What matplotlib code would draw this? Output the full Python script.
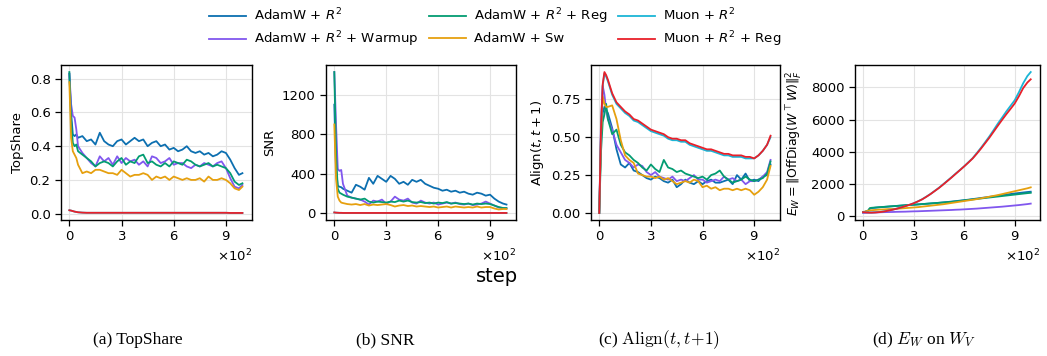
import matplotlib
matplotlib.use("Agg")
import matplotlib.pyplot as plt
from matplotlib.lines import Line2D

steps = [0, 10, 20, 30, 40, 50, 75, 100, 125, 150, 175,
         200, 225, 250, 275, 300, 325, 350, 375, 400, 425, 450,
         475, 500, 525, 550, 575, 600, 625, 650, 675, 700, 725,
         750, 775, 800, 825, 850, 875, 900, 925, 950, 975, 995]

methods = ["AdamW + $R^2$", "AdamW + $R^2$ + Warmup", "AdamW + $R^2$ + Reg",
           "AdamW + Sw", "Muon + $R^2$", "Muon + $R^2$ + Reg"]
colors = ["#0C6FB0", "#8157EE", "#039C72", "#E6A00F", "#1BB5D6", "#E8202A"]

# (a) TopShare
top_adamw = [0.83, 0.60, 0.47, 0.46, 0.47, 0.45, 0.46, 0.43, 0.44, 0.41, 0.48,
             0.43, 0.41, 0.40, 0.43, 0.44, 0.41, 0.43, 0.45, 0.43, 0.44, 0.40,
             0.42, 0.43, 0.40, 0.41, 0.38, 0.39, 0.37, 0.38, 0.40, 0.37, 0.36,
             0.37, 0.35, 0.36, 0.34, 0.35, 0.37, 0.36, 0.32, 0.27, 0.23, 0.24]
top_warmup = [0.83, 0.65, 0.58, 0.57, 0.50, 0.40, 0.36, 0.33, 0.30, 0.28, 0.34,
              0.31, 0.33, 0.29, 0.34, 0.30, 0.33, 0.31, 0.32, 0.29, 0.31, 0.28,
              0.34, 0.33, 0.30, 0.31, 0.33, 0.29, 0.30, 0.30, 0.28, 0.27, 0.29,
              0.28, 0.30, 0.29, 0.28, 0.30, 0.31, 0.27, 0.21, 0.16, 0.15, 0.17]
top_reg = [0.84, 0.55, 0.42, 0.40, 0.41, 0.37, 0.35, 0.33, 0.31, 0.28, 0.30,
           0.31, 0.30, 0.28, 0.31, 0.33, 0.29, 0.31, 0.30, 0.34, 0.35, 0.30,
           0.31, 0.29, 0.28, 0.30, 0.28, 0.31, 0.30, 0.29, 0.32, 0.31, 0.29,
           0.28, 0.29, 0.30, 0.28, 0.29, 0.28, 0.27, 0.24, 0.19, 0.17, 0.18]
top_sw = [0.78, 0.45, 0.37, 0.35, 0.33, 0.29, 0.24, 0.25, 0.24, 0.26, 0.26,
          0.25, 0.24, 0.24, 0.23, 0.26, 0.24, 0.22, 0.23, 0.23, 0.24, 0.23,
          0.20, 0.22, 0.21, 0.22, 0.20, 0.22, 0.21, 0.20, 0.21, 0.20, 0.20,
          0.21, 0.19, 0.22, 0.20, 0.20, 0.21, 0.20, 0.18, 0.15, 0.14, 0.16]
top_muon = [0.020, 0.018, 0.015, 0.012, 0.010, 0.008, 0.006, 0.005, 0.005, 0.005, 0.005,
            0.005, 0.005, 0.005, 0.005, 0.005, 0.005, 0.005, 0.005, 0.005, 0.005, 0.005,
            0.005, 0.005, 0.005, 0.005, 0.005, 0.005, 0.005, 0.005, 0.005, 0.005, 0.005,
            0.005, 0.005, 0.005, 0.005, 0.005, 0.005, 0.005, 0.004, 0.004, 0.004, 0.004]
top_muon_reg = [0.020, 0.018, 0.015, 0.012, 0.010, 0.008, 0.006, 0.005, 0.005, 0.005, 0.005,
                0.005, 0.005, 0.005, 0.005, 0.005, 0.005, 0.005, 0.005, 0.005, 0.005, 0.005,
                0.005, 0.005, 0.005, 0.005, 0.005, 0.005, 0.005, 0.005, 0.005, 0.005, 0.005,
                0.005, 0.005, 0.005, 0.005, 0.005, 0.005, 0.005, 0.004, 0.004, 0.004, 0.004]

# (b) SNR
snr_adamw = [1100, 450, 280, 270, 265, 250, 230, 210, 290, 270, 240,
             360, 300, 380, 350, 320, 380, 350, 300, 320, 290, 340,
             320, 340, 300, 280, 260, 250, 230, 240, 220, 230, 210,
             220, 200, 190, 210, 200, 180, 190, 150, 120, 100, 90]
snr_warmup = [1430, 900, 450, 430, 440, 300, 180, 160, 150, 140, 120,
              90, 130, 120, 140, 100, 120, 170, 140, 130, 150, 110,
              100, 130, 110, 100, 110, 90, 100, 110, 100, 110, 95,
              90, 100, 85, 90, 100, 120, 100, 80, 60, 55, 50]
snr_reg = [1430, 600, 250, 210, 200, 190, 170, 160, 150, 140, 150,
           120, 110, 120, 115, 110, 120, 115, 130, 120, 130, 115,
           110, 115, 105, 110, 100, 110, 105, 115, 100, 105, 100,
           95, 100, 90, 100, 95, 100, 95, 80, 65, 55, 55]
snr_sw = [900, 350, 170, 130, 110, 105, 95, 90, 95, 85, 95,
          80, 90, 85, 90, 95, 85, 70, 80, 85, 75, 80,
          70, 75, 70, 65, 70, 60, 65, 70, 60, 70, 65,
          60, 65, 60, 70, 60, 65, 65, 50, 40, 45, 45]
snr_muon = [10, 8, 7, 6, 6, 5, 5, 5, 5, 5, 5,
            5, 5, 5, 5, 5, 5, 5, 5, 5, 5, 5,
            5, 5, 5, 5, 5, 5, 5, 5, 5, 5, 5,
            5, 5, 5, 5, 5, 5, 5, 5, 5, 5, 5]
snr_muon_reg = [10, 8, 7, 6, 6, 5, 5, 5, 5, 5, 5,
                5, 5, 5, 5, 5, 5, 5, 5, 5, 5, 5,
                5, 5, 5, 5, 5, 5, 5, 5, 5, 5, 5,
                5, 5, 5, 5, 5, 5, 5, 5, 5, 5, 5]

# (c) Align(t, t+1)
al_adamw = [0.00, 0.50, 0.66, 0.70, 0.68, 0.66, 0.56, 0.42, 0.32, 0.30, 0.33,
            0.28, 0.27, 0.25, 0.23, 0.22, 0.24, 0.23, 0.21, 0.20, 0.22, 0.17,
            0.19, 0.22, 0.20, 0.19, 0.21, 0.19, 0.21, 0.22, 0.20, 0.20, 0.21,
            0.22, 0.19, 0.25, 0.22, 0.26, 0.21, 0.22, 0.21, 0.24, 0.25, 0.32]
al_warmup = [0.00, 0.60, 0.84, 0.78, 0.68, 0.62, 0.55, 0.45, 0.40, 0.35, 0.33,
             0.30, 0.32, 0.31, 0.27, 0.25, 0.27, 0.24, 0.23, 0.22, 0.24, 0.21,
             0.22, 0.21, 0.23, 0.25, 0.22, 0.22, 0.20, 0.21, 0.22, 0.21, 0.24,
             0.22, 0.23, 0.21, 0.22, 0.19, 0.21, 0.21, 0.22, 0.24, 0.27, 0.35]
al_reg = [0.00, 0.40, 0.60, 0.65, 0.72, 0.62, 0.52, 0.55, 0.45, 0.40, 0.38,
          0.35, 0.33, 0.30, 0.28, 0.32, 0.29, 0.27, 0.35, 0.30, 0.29, 0.27,
          0.28, 0.26, 0.25, 0.24, 0.23, 0.24, 0.22, 0.25, 0.26, 0.28, 0.24,
          0.22, 0.20, 0.21, 0.22, 0.24, 0.22, 0.21, 0.22, 0.23, 0.26, 0.34]
al_sw = [0.00, 0.50, 0.77, 0.72, 0.70, 0.70, 0.71, 0.62, 0.48, 0.38, 0.35,
         0.33, 0.26, 0.25, 0.24, 0.24, 0.23, 0.24, 0.22, 0.23, 0.21, 0.19,
         0.20, 0.21, 0.20, 0.22, 0.21, 0.17, 0.18, 0.16, 0.17, 0.15, 0.16,
         0.16, 0.15, 0.16, 0.15, 0.16, 0.15, 0.12, 0.14, 0.17, 0.22, 0.31]
al_muon = [0.00, 0.54, 0.84, 0.92, 0.90, 0.87, 0.78, 0.72, 0.69, 0.66, 0.64,
           0.61, 0.60, 0.58, 0.56, 0.54, 0.53, 0.52, 0.51, 0.49, 0.48, 0.48,
           0.47, 0.47, 0.45, 0.44, 0.43, 0.42, 0.41, 0.41, 0.40, 0.39, 0.38,
           0.38, 0.37, 0.37, 0.37, 0.36, 0.36, 0.36, 0.38, 0.41, 0.45, 0.50]
al_muon_reg = [0.00, 0.55, 0.85, 0.93, 0.91, 0.88, 0.79, 0.73, 0.70, 0.67, 0.65,
               0.62, 0.61, 0.59, 0.57, 0.55, 0.54, 0.53, 0.52, 0.50, 0.49, 0.49,
               0.48, 0.48, 0.46, 0.45, 0.44, 0.43, 0.42, 0.42, 0.41, 0.40, 0.39,
               0.39, 0.38, 0.38, 0.38, 0.37, 0.37, 0.36, 0.38, 0.41, 0.45, 0.51]

# (d) E_W on W_V
ew_adamw = [250, 270, 300, 340, 470, 500, 530, 555, 575, 595, 615,
            635, 655, 675, 695, 710, 730, 750, 770, 790, 810, 830,
            855, 880, 905, 935, 965, 995, 1025, 1060, 1095, 1130, 1165,
            1200, 1235, 1270, 1305, 1340, 1375, 1410, 1440, 1470, 1500, 1520]
ew_warmup = [200, 205, 210, 215, 220, 222, 230, 240, 250, 255, 260,
             270, 275, 280, 290, 300, 305, 315, 325, 335, 345, 355,
             365, 375, 385, 400, 410, 425, 440, 455, 470, 490, 510,
             530, 550, 570, 590, 615, 640, 665, 690, 720, 750, 780]
ew_reg = [250, 270, 300, 350, 500, 520, 540, 560, 580, 600, 620,
          640, 660, 680, 700, 710, 730, 750, 770, 790, 810, 830,
          850, 870, 890, 920, 950, 980, 1010, 1040, 1070, 1100, 1130,
          1160, 1190, 1220, 1250, 1280, 1310, 1340, 1370, 1400, 1430, 1450]
ew_sw = [250, 280, 310, 340, 360, 370, 390, 410, 420, 440, 450,
         460, 480, 500, 520, 540, 560, 590, 620, 650, 680, 710,
         740, 780, 820, 860, 900, 940, 980, 1020, 1060, 1110, 1160,
         1210, 1260, 1310, 1370, 1430, 1490, 1550, 1610, 1670, 1730, 1790]
ew_muon = [250, 245, 240, 235, 232, 230, 245, 265, 300, 350, 405,
           470, 540, 620, 705, 800, 920, 1050, 1210, 1380, 1570, 1760,
           1980, 2200, 2420, 2650, 2870, 3100, 3350, 3600, 3920, 4250, 4600,
           4960, 5350, 5750, 6120, 6500, 6850, 7200, 7700, 8250, 8700, 8950]
ew_muon_reg = [250, 240, 230, 225, 220, 218, 230, 255, 290, 345, 400,
               465, 540, 620, 705, 800, 915, 1040, 1200, 1370, 1560, 1750,
               1960, 2180, 2400, 2630, 2860, 3090, 3330, 3580, 3880, 4200, 4540,
               4880, 5250, 5620, 5980, 6330, 6660, 7000, 7450, 7950, 8300, 8500]

panels = [
    ([top_adamw, top_warmup, top_reg, top_sw, top_muon, top_muon_reg], "TopShare",
     [0.0, 0.2, 0.4, 0.6, 0.8], ["0.0", "0.2", "0.4", "0.6", "0.8"]),
    ([snr_adamw, snr_warmup, snr_reg, snr_sw, snr_muon, snr_muon_reg], "SNR",
     [0, 400, 800, 1200], ["0", "400", "800", "1200"]),
    ([al_adamw, al_warmup, al_reg, al_sw, al_muon, al_muon_reg], r"Align$(t, t+1)$",
     [0.0, 0.25, 0.5, 0.75], ["0.00", "0.25", "0.50", "0.75"]),
    ([ew_adamw, ew_warmup, ew_reg, ew_sw, ew_muon, ew_muon_reg],
     r"$E_W = \|\mathrm{OffDiag}(W^\top W)\|_F^2$",
     [0, 2000, 4000, 6000, 8000], ["0", "2000", "4000", "6000", "8000"]),
]
captions = ["(a) TopShare", "(b) SNR", r"(c) $\mathrm{Align}(t, t\!+\!1)$",
            r"(d) $E_W$ on $W_V$"]
caption_x = [138, 385, 659, 924]

W, H = 1047, 356
fig = plt.figure(figsize=(W / 100, H / 100), dpi=100)
ax_px = [(61, 252), (326, 516), (591, 780), (855, 1040)]
top_px, bot_px = 65, 220

for i, (series, ylabel, yt, ytl) in enumerate(panels):
    l, r = ax_px[i]
    ax = fig.add_axes([l / W, 1 - bot_px / H, (r - l) / W, (bot_px - top_px) / H])
    for vals, c in zip(series, colors):
        ax.plot(steps, vals, color=c, lw=1.3)
    ax.set_xlim(-48, 1050)
    ax.set_xticks([0, 300, 600, 900])
    ax.ticklabel_format(axis="x", style="sci", scilimits=(2, 2), useMathText=True)
    ax.xaxis.get_offset_text().set_fontsize(9.5)
    ax.set_yticks(yt)
    ax.set_yticklabels(ytl)
    ax.set_ylabel(ylabel, fontsize=9.5 if i < 3 else 9, labelpad=4)
    ax.tick_params(labelsize=9.5, direction="out", length=4, width=0.9, color="black")
    ax.grid(True, color="#e3e3e3", lw=0.8)
    ax.set_axisbelow(True)
    for s in ax.spines.values():
        s.set_color("black")
        s.set_linewidth(1.0)
    fig.text(caption_x[i] / W, 1 - 340 / H, captions[i], ha="center", va="center",
             fontsize=12.5, family="Liberation Serif", math_fontfamily="cm")

fig.text(497 / W, 1 - 276 / H, "step", ha="center", va="center", fontsize=14)

handles = [Line2D([], [], color=c, lw=1.3) for c in colors]
fig.legend(handles, methods, ncol=3, loc="center", bbox_to_anchor=(0.473, 1 - 28 / H),
           frameon=False, fontsize=9.5, handlelength=2.8, columnspacing=0.8,
           labelspacing=0.45, handletextpad=0.6)

fig.savefig("out.png", dpi=100)
